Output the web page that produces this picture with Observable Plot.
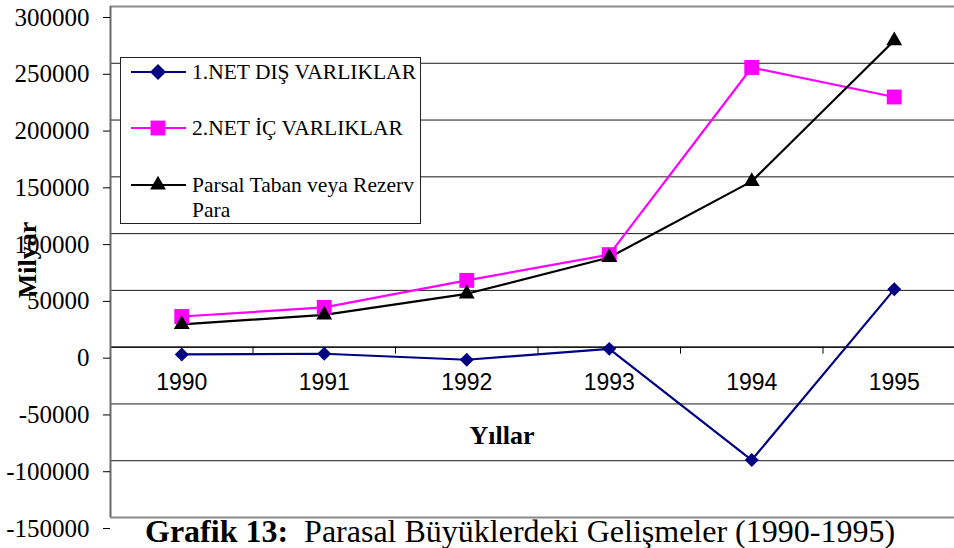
<!DOCTYPE html>
<html>
<head>
<meta charset="utf-8">
<script src="https://cdn.jsdelivr.net/npm/d3@7"></script>
<script src="https://cdn.jsdelivr.net/npm/@observablehq/plot@0.6"></script>
<style>
  html, body { margin: 0; padding: 0; background: #fff; overflow: hidden; width: 954px; height: 548px; }
  #wrap { position: relative; width: 954px; height: 548px; overflow: hidden; }
  #wrap svg { display: block; max-width: none !important; width: 966px !important; height: 548px !important; }
</style>
</head>
<body>
<div id="wrap"></div>
<script>
// ---- data ----
const years = [1990, 1991, 1992, 1993, 1994, 1995];
const netDisVarliklar = [-6400, -5800, -11100, -1500, -99400, 50900];
const netIcVarliklar = [27000, 35000, 58800, 81500, 246300, 220300];
const rezervPara = [20000, 28500, 47000, 79000, 146000, 270000];
const seriesNames = ["1.NET DIŞ VARLIKLAR", "2.NET İÇ VARLIKLAR", "Parsal Taban veya Rezerv Para"];
const yTicks = [-150000, -100000, -50000, 0, 50000, 100000, 150000, 200000, 250000, 300000];
const xLabels = ["1990", "1991", "1992", "1993", "1994", "1995"];
const xTitle = "Yıllar";
const yTitle = "Milyar";
const captionBold = "Grafik 13:";
const captionText = "  Parasal Büyüklerdeki Gelişmeler (1990-1995)";

// ---- styles ----
const colors = ["#000080", "#FF00FF", "#000000"];
const symbols = ["diamond2", "square", "triangle"];
const radii = [6.3, 8.4, 5.9];
const serif = "'Liberation Serif', 'Times New Roman', serif";
const sans = "'Liberation Sans', Arial, sans-serif";

const seriesValues = [netDisVarliklar, netIcVarliklar, rezervPara];
const series = seriesValues.map((vals, s) =>
  years.map((yr, i) => ({year: yr, value: vals[i], series: seriesNames[s]}))
);
const boundaries = years.slice(0, -1).map(y => y + 0.5);
const xDomain = [years[0] - 0.5, years[years.length - 1] + 0.5];

const seriesMarks = series.map((d, s) =>
  Plot.line(d, {x: "year", y: "value", stroke: colors[s], strokeWidth: 2.2})
);
const dotMarks = series.map((d, s) =>
  Plot.dot(d, {x: "year", y: "value", symbol: symbols[s], r: radii[s], fill: colors[s], stroke: "none"})
);

const chart = Plot.plot({
  width: 966,
  height: 548,
  marginLeft: 110,
  marginRight: 1,
  marginTop: 6,
  marginBottom: 31,
  x: {type: "linear", domain: xDomain, axis: null},
  y: {domain: [yTicks[0], yTicks[yTicks.length - 1]], axis: null},
  style: {background: "transparent", overflow: "visible"},
  marks: [
    Plot.gridY(yTicks.slice(1, -1), {stroke: "#1a1a1a", strokeOpacity: 1, strokeWidth: 1}),
    Plot.ruleY([yTicks[0], yTicks[yTicks.length - 1]], {stroke: "#8a8a8a", strokeWidth: 2}),
    Plot.ruleY([0], {stroke: "#000", strokeWidth: 1.3}),
    Plot.ruleX([xDomain[0]], {stroke: "#6a6a6a", strokeWidth: 2}),
    Plot.axisY({
      ticks: yTicks, tickSize: 7, tickPadding: 14, dy: 11, label: null,
      fontSize: 25, fontFamily: serif, tickFormat: d => String(d), stroke: "#000"
    }),
    Plot.ruleX(boundaries, {x: d => d, y1: 0, y2: 0, insetBottom: -7, stroke: "#000", strokeWidth: 1}),
    Plot.text(years, {x: d => d, y: 0, dy: 35, text: (d, i) => xLabels[i], fontSize: 23, fontFamily: sans, fill: "#000"}),
    ...seriesMarks,
    ...dotMarks
  ]
});

document.getElementById("wrap").appendChild(chart);

// ---- titles and legend as real SVG text ----
const svg = d3.select(chart);

svg.append("text")
  .attr("x", 502).attr("y", 444)
  .attr("text-anchor", "middle")
  .attr("font-family", serif).attr("font-weight", "bold").attr("font-size", 26)
  .attr("fill", "#000")
  .text(xTitle);

svg.append("text")
  .attr("transform", "translate(36,260) rotate(-90)")
  .attr("text-anchor", "middle")
  .attr("font-family", serif).attr("font-weight", "bold").attr("font-size", 26)
  .attr("fill", "#000")
  .text(yTitle);

const cap = svg.append("text")
  .attr("x", 145).attr("y", 542)
  .attr("text-anchor", "start")
  .attr("font-family", serif).attr("font-size", 32)
  .attr("fill", "#000")
  .style("white-space", "pre");
cap.append("tspan").attr("font-weight", "bold").text(captionBold);
cap.append("tspan").text(captionText);

// legend
const lg = svg.append("g").attr("text-anchor", "start");
lg.append("rect")
  .attr("x", 120.5).attr("y", 57.5).attr("width", 300).attr("height", 166)
  .attr("fill", "#fff").attr("stroke", "#222").attr("stroke-width", 1);
const rowY = [72, 128, 185];
const legendR = [7.2, 8.4, 5.9];
seriesNames.forEach((name, s) => {
  const cy = rowY[s];
  lg.append("line")
    .attr("x1", 131).attr("x2", 186).attr("y1", cy).attr("y2", cy)
    .attr("stroke", colors[s]).attr("stroke-width", 2.2);
  const symType = s === 0 ? d3.symbolDiamond2 : s === 1 ? d3.symbolSquare : d3.symbolTriangle;
  lg.append("path")
    .attr("transform", `translate(158,${cy})`)
    .attr("d", d3.symbol(symType, Math.PI * legendR[s] * legendR[s])())
    .attr("fill", colors[s]);
  const t = lg.append("text")
    .attr("x", 192).attr("y", cy + 7)
    .attr("text-anchor", "start")
    .attr("font-family", serif).attr("font-size", 21.5).attr("fill", "#000");
  if (s === 2) {
    t.append("tspan").attr("x", 192).text("Parsal Taban veya Rezerv");
    t.append("tspan").attr("x", 192).attr("dy", 25).text("Para");
  } else {
    t.text(name);
  }
});
</script>
</body>
</html>
